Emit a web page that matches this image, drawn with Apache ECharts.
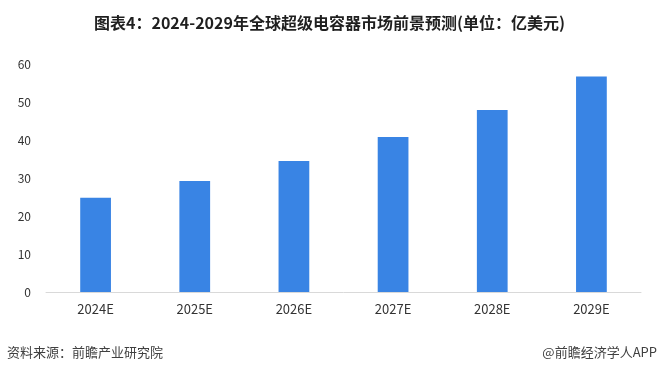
<!DOCTYPE html>
<html>
<head>
<meta charset="utf-8">
<script src="https://cdn.jsdelivr.net/npm/echarts@6/dist/echarts.min.js"></script>
<style>
  html, body { margin: 0; padding: 0; background: #fff; }
  #chart { width: 659px; height: 377px; }
</style>
</head>
<body>
<div id="chart"></div>
<script>
const years = ['2024E', '2025E', '2026E', '2027E', '2028E', '2029E'];
const marketSize = [24.8, 29.2, 34.5, 40.8, 47.9, 56.7];
const yTicks = { min: 0, max: 60, interval: 10 };

const FONT = '"Noto Sans CJK SC", "Noto Sans", sans-serif';

const chart = echarts.init(document.getElementById('chart'));

chart.setOption({
  animation: false,
  textStyle: { fontFamily: FONT },
  title: {
    text: '图表4：2024-2029年全球超级电容器市场前景预测(单位：亿美元)',
    left: 'center',
    top: 10,
    textStyle: { fontFamily: FONT, fontSize: 16, fontWeight: 'bold', color: '#1f1f1f' },
  },
  grid: { left: 46, right: 18, top: 64, bottom: 85 },
  xAxis: {
    type: 'category',
    data: years,
    axisLine: { lineStyle: { color: '#d9d9d9', width: 1 } },
    axisTick: { show: false },
    axisLabel: { color: '#333333', fontSize: 13, margin: 11 },
  },
  yAxis: {
    type: 'value',
    min: yTicks.min,
    max: yTicks.max,
    interval: yTicks.interval,
    axisLine: { show: false },
    axisTick: { show: false },
    splitLine: { show: false },
    axisLabel: { color: '#333333', fontSize: 12, margin: 15 },
  },
  series: [{
    type: 'bar',
    data: marketSize,
    barWidth: '31%',
    itemStyle: { color: '#3984e4' },
  }],
  graphic: [
    {
      type: 'text',
      left: 7,
      top: 346,
      style: { text: '资料来源：前瞻产业研究院', font: '13px ' + FONT, fill: '#404040' },
    },
    {
      type: 'text',
      right: 2,
      top: 346,
      style: { text: '@前瞻经济学人APP', font: '13px ' + FONT, fill: '#404040' },
    },
  ],
});
</script>
</body>
</html>
